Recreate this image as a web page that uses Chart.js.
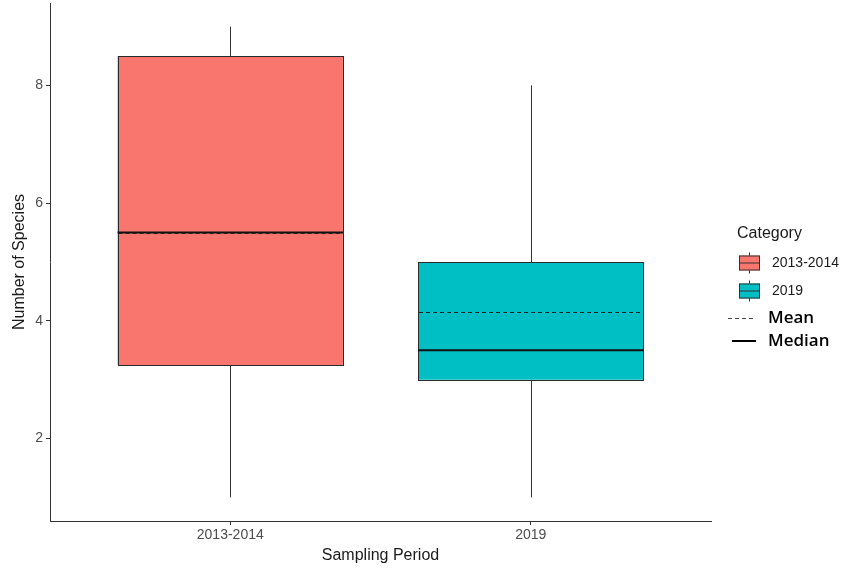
<!DOCTYPE html>
<html>
<head>
<meta charset="utf-8">
<title>Number of Species by Sampling Period</title>
<script src="https://cdn.jsdelivr.net/npm/chart.js@4.4.1/dist/chart.umd.min.js"></script>
<style>
  html, body { margin: 0; padding: 0; background: #fff; }
  #wrap { width: 850px; height: 574px; }
</style>
</head>
<body>
<div id="wrap"><canvas id="boxChart" width="850" height="574"></canvas></div>
<script>
// data
const categories = ['2013-2014', '2019'];
const positions = [1, 2];
const whiskerLow = [1, 1];
const q1 = [3.25, 3];
const medians = [5.5, 3.5];
const means = [5.5, 4.15];
const q3 = [8.5, 5];
const whiskerHigh = [9, 8];
const yTicks = [2, 4, 6, 8];
const boxColors = ['#F8766D', '#00BFC4'];

const lineColor = '#333333';
const baseFont = '"Liberation Sans", Arial, sans-serif';

// whiskers behind the boxes, median + mean lines on top
const boxExtras = {
    id: 'boxExtras',
    beforeDatasetsDraw(chart) {
        const { ctx, scales: { x, y } } = chart;
        ctx.save();
        ctx.strokeStyle = lineColor;
        ctx.lineWidth = 1;
        positions.forEach((p, i) => {
            const px = Math.round(x.getPixelForValue(p)) + 0.5;
            ctx.beginPath();
            ctx.moveTo(px, y.getPixelForValue(whiskerLow[i]));
            ctx.lineTo(px, y.getPixelForValue(q1[i]));
            ctx.moveTo(px, y.getPixelForValue(q3[i]));
            ctx.lineTo(px, y.getPixelForValue(whiskerHigh[i]));
            ctx.stroke();
        });
        ctx.restore();
    },
    afterDatasetsDraw(chart) {
        const { ctx, scales: { y } } = chart;
        const bars = chart.getDatasetMeta(0).data;
        ctx.save();
        bars.forEach((bar, i) => {
            const left = bar.x - bar.width / 2;
            const right = bar.x + bar.width / 2;
            // box outline, crisp
            ctx.setLineDash([]);
            ctx.lineWidth = 1;
            ctx.strokeStyle = '#2a2a2a';
            const top = Math.round(y.getPixelForValue(q3[i])) + 0.5;
            const bot = Math.round(y.getPixelForValue(q1[i])) + 0.5;
            ctx.strokeRect(Math.round(left) + 0.5, top, Math.round(right - left), bot - top);
            // median
            ctx.lineWidth = 2;
            ctx.strokeStyle = '#111';
            const my = y.getPixelForValue(medians[i]);
            ctx.beginPath();
            ctx.moveTo(left, my);
            ctx.lineTo(right, my);
            ctx.stroke();
            // mean
            ctx.setLineDash([4, 3]);
            ctx.lineWidth = 1;
            ctx.strokeStyle = '#222';
            const ay = Math.round(y.getPixelForValue(means[i])) + 0.5;
            ctx.beginPath();
            ctx.moveTo(left + 1, ay);
            ctx.lineTo(right - 1, ay);
            ctx.stroke();
        });
        ctx.restore();
    }
};

// legend on the right, drawn by hand
const sideLegend = {
    id: 'sideLegend',
    afterDraw(chart) {
        const { ctx, chartArea } = chart;
        const lx = chartArea.right + 26;
        ctx.save();
        ctx.textBaseline = 'middle';
        ctx.textAlign = 'left';
        ctx.fillStyle = '#1a1a1a';
        ctx.font = '16px ' + baseFont;
        ctx.fillText('Category', lx, 234);

        categories.forEach((c, i) => {
            const cy = 263 + i * 28;
            const bx = lx + 2, bw = 21, bh = 15;
            ctx.strokeStyle = lineColor;
            ctx.lineWidth = 1;
            ctx.beginPath();
            ctx.moveTo(bx + bw / 2, cy - bh / 2 - 3);
            ctx.lineTo(bx + bw / 2, cy + bh / 2 + 3);
            ctx.stroke();
            ctx.fillStyle = boxColors[i];
            ctx.fillRect(bx, cy - bh / 2, bw, bh);
            ctx.strokeRect(bx + 0.5, cy - bh / 2 + 0.5, bw - 1, bh - 1);
            ctx.beginPath();
            ctx.moveTo(bx, cy);
            ctx.lineTo(bx + bw, cy);
            ctx.stroke();
            ctx.fillStyle = '#1a1a1a';
            ctx.font = '14px ' + baseFont;
            ctx.fillText(c, lx + 35, cy);
        });

        ctx.font = '600 17px "Open Sans", "Noto Sans", sans-serif';
        ctx.fillStyle = '#000';
        ctx.strokeStyle = '#444';
        ctx.lineWidth = 1;
        ctx.setLineDash([4, 3]);
        ctx.beginPath();
        ctx.moveTo(lx - 9, 318.5);
        ctx.lineTo(lx + 18, 318.5);
        ctx.stroke();
        ctx.fillText('Mean', lx + 31, 318);

        ctx.setLineDash([]);
        ctx.strokeStyle = '#000';
        ctx.lineWidth = 2;
        ctx.beginPath();
        ctx.moveTo(lx - 5, 341);
        ctx.lineTo(lx + 19, 341);
        ctx.stroke();
        ctx.fillText('Median', lx + 31, 341);
        ctx.restore();
    }
};

const ctx = document.getElementById('boxChart').getContext('2d');
new Chart(ctx, {
    type: 'bar',
    data: {
        datasets: [{
            label: 'Category',
            data: positions.map((p, i) => ({ x: p, y: [q1[i], q3[i]] })),
            backgroundColor: boxColors,
            borderWidth: 0,
            categoryPercentage: 1,
            barPercentage: 0.75
        }]
    },
    options: {
        responsive: false,
        animation: false,
        layout: { padding: { top: 3, right: 139, left: 0, bottom: 0 } },
        plugins: {
            legend: { display: false },
            tooltip: { enabled: false }
        },
        scales: {
            x: {
                type: 'linear',
                min: 0.4,
                max: 2.6,
                offset: false,
                afterBuildTicks: s => { s.ticks = positions.map(v => ({ value: v })); },
                afterFit: s => { s.height = 53; s.paddingLeft = 0; s.paddingRight = 0; },
                ticks: {
                    callback: v => categories[positions.indexOf(v)],
                    color: '#4d4d4d',
                    font: { family: baseFont, size: 14 },
                    padding: 2,
                    maxRotation: 0
                },
                grid: { offset: false, drawOnChartArea: false, drawTicks: true, tickLength: 4, color: lineColor },
                border: { display: true, color: lineColor, width: 1 },
                title: {
                    display: true,
                    text: 'Sampling Period',
                    color: '#1a1a1a',
                    font: { family: baseFont, size: 16 },
                    padding: { top: 0, bottom: 9 }
                }
            },
            y: {
                min: 0.6,
                max: 9.4,
                afterBuildTicks: s => { s.ticks = yTicks.map(v => ({ value: v })); },
                afterFit: s => { s.width = 50; s.paddingTop = 0; s.paddingBottom = 0; },
                ticks: {
                    color: '#4d4d4d',
                    font: { family: baseFont, size: 14 },
                    padding: 3
                },
                grid: { drawOnChartArea: false, drawTicks: true, tickLength: 4, color: lineColor },
                border: { display: true, color: lineColor, width: 1 },
                title: {
                    display: true,
                    text: 'Number of Species',
                    color: '#1a1a1a',
                    font: { family: baseFont, size: 16 },
                    padding: { top: 10, bottom: 0 }
                }
            }
        }
    },
    plugins: [boxExtras, sideLegend]
});
</script>
</body>
</html>
